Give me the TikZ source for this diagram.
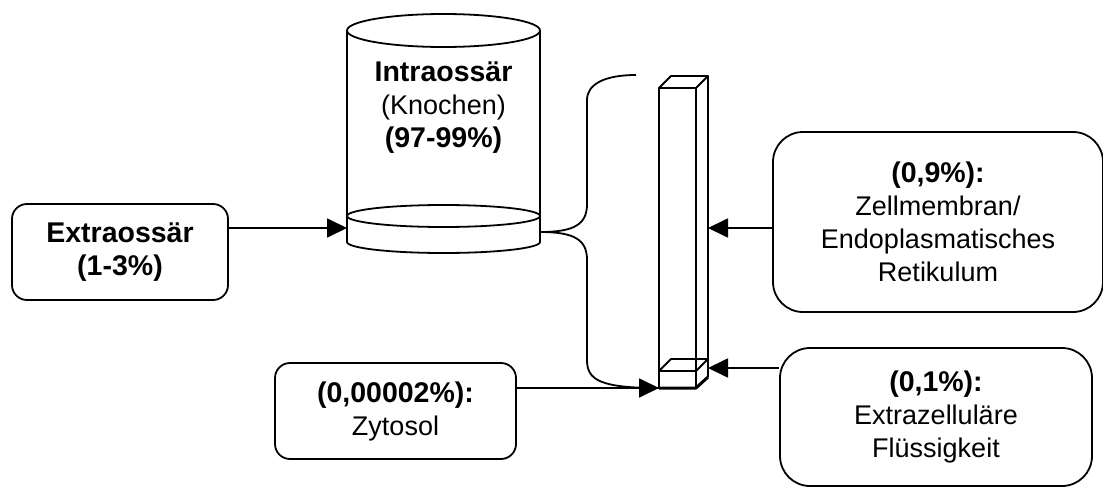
\documentclass[tikz,border=0pt]{standalone}
\usepackage{fontspec}
\setmainfont{Liberation Sans}
\usetikzlibrary{arrows.meta}
\newcommand{\fett}[1]{{\fontsize{28.5}{33}\selectfont\bfseries #1}}
\tikzset{
	kasten/.style={draw, line width=1.8pt, rounded corners=15pt, align=center, inner sep=0pt},
	grosskasten/.style={kasten, rounded corners=30pt}
}
\begin{document}
\begin{tikzpicture}[x=1pt,y=-1pt,>={Triangle[length=20pt,width=19pt]}, font=\fontsize{27}{33}\selectfont, line width=1.8pt, line join=round]
	\useasboundingbox (0,0) rectangle (1103,487);
	% Kaesten
	\node[kasten, minimum width=216pt, minimum height=96pt] (extra) at (120,252) {\fett{Extraossär}\\\fett{(1-3\%)}};
	\node[kasten, minimum width=241pt, minimum height=96pt] (zyto) at (395.5,411) {\fett{(0,00002\%):}\\Zytosol};
	\node[grosskasten, minimum width=330pt, minimum height=180pt] (membran) at (938,222) {\fett{(0,9\%):}\\Zellmembran/\\Endoplasmatisches\\Retikulum};
	\node[grosskasten, minimum width=312pt, minimum height=138pt] (ezf) at (936,417) {\fett{(0,1\%):}\\Extrazelluläre\\Flüssigkeit};
	% Zylinder (Knochen)
	\draw (443.5,30.5) ellipse[x radius=96.5pt, y radius=16.5pt];
	\draw (443.5,216) ellipse[x radius=96.5pt, y radius=11pt];
	\draw (347,30.5)--(347,242) arc[start angle=180, end angle=360, x radius=96.5pt, y radius=11pt]--(540,30.5);
	\path
	(347,228)coordinate (zylL)
	(540,232)coordinate (zylR)
	;
	\node[align=center] (knochen) at (443.5,108) {\fett{Intraossär}\\(Knochen)\\\fett{(97-99\%)}};
	% Saeule
	\draw (659,88) rectangle (696,388);
	\draw (659,88)--(671,76)--(708,76)--(696,88);
	\draw (708,76)--(708,377);
	\draw (659,371)--(671,359)--(708,359) (659,371)--(696,371)--(708,359);
	\draw[line width=3pt] (659,388)--(696,388)--(708,377);
	\path
	(659,388)coordinate (saeuleU)
	(708,228)coordinate (saeuleO)
	(708,368)coordinate (saeuleM)
	(636,75)coordinate (klammerO)
	;
	% Klammer
	\draw (zylR) .. controls (575,232) and (587,224) .. (587,204) -- (587,100) .. controls (587,84) and (605,75) .. (klammerO);
	\draw (zylR) .. controls (575,232) and (587,240) .. (587,260) -- (587,360) .. controls (587,380) and (600,388) .. (saeuleU);
	% Pfeile
	\draw[->] (extra.east |- zylL) -- (zylL);
	\draw[->] (zyto.east |- saeuleU) -- (saeuleU);
	\draw[->] (membran.west |- saeuleO) -- (saeuleO);
	\draw[->] (ezf.west |- saeuleM) -- (saeuleM);
\end{tikzpicture}
\end{document}
